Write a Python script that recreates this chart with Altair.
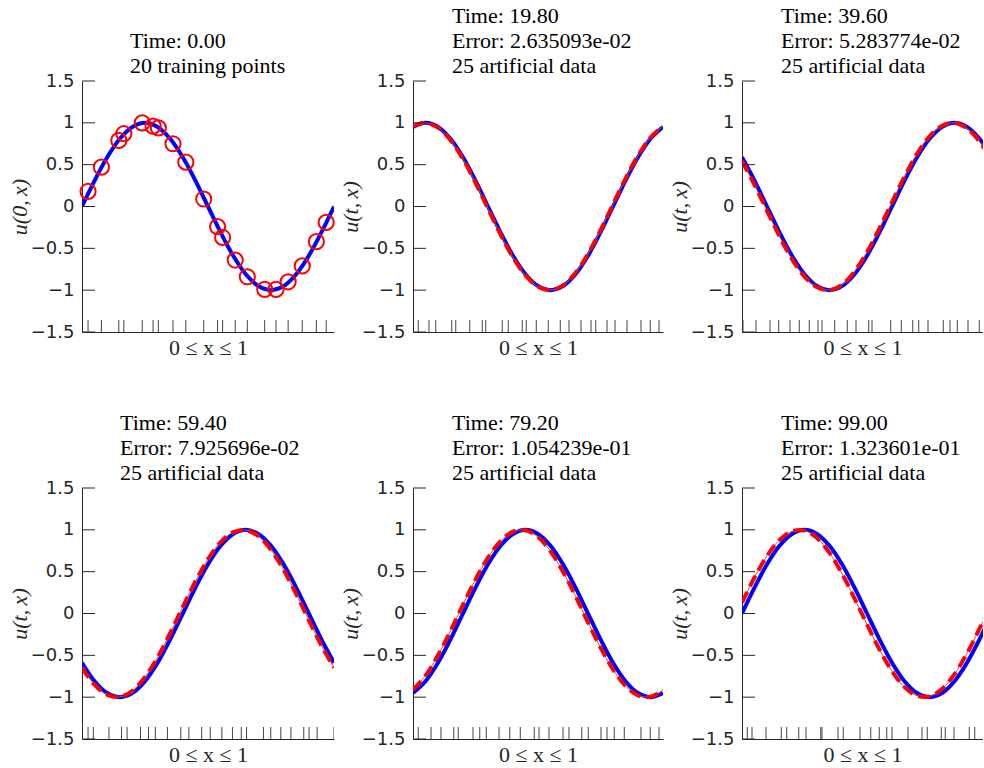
import altair as alt
import pandas as pd

# ---------------- data ----------------
X_GRID = [0.0, 0.05, 0.1, 0.15, 0.2, 0.25, 0.3, 0.35, 0.4, 0.45, 0.5,
          0.55, 0.6, 0.65, 0.7, 0.75, 0.8, 0.85, 0.9, 0.95, 1.0]

EXACT_1 = [0, .309, .588, .809, .951, 1, .951, .809, .588, .309, 0, -.309, -.588, -.809, -.951, -1, -.951, -.809, -.588, -.309, 0]
EXACT_2 = [.951, 1, .951, .809, .588, .309, 0, -.309, -.588, -.809, -.951, -1, -.951, -.809, -.588, -.309, 0, .309, .588, .809, .951]
EXACT_3 = [.588, .309, 0, -.309, -.588, -.809, -.951, -1, -.951, -.809, -.588, -.309, 0, .309, .588, .809, .951, 1, .951, .809, .588]
EXACT_4 = [-.588, -.809, -.951, -1, -.951, -.809, -.588, -.309, 0, .309, .588, .809, .951, 1, .951, .809, .588, .309, 0, -.309, -.588]
EXACT_5 = [-.951, -.809, -.588, -.309, 0, .309, .588, .809, .951, 1, .951, .809, .588, .309, 0, -.309, -.588, -.809, -.951, -1, -.951]
EXACT_6 = [0, .309, .588, .809, .951, 1, .951, .809, .588, .309, 0, -.309, -.588, -.809, -.951, -1, -.951, -.809, -.588, -.309, 0]

PRED_2 = [.959, 1.0, .943, .793, .566, .284, -.026, -.334, -.609, -.824, -.959, -1.0, -.943, -.793, -.566, -.284, .026, .334, .609, .824, .959]
PRED_3 = [.545, .259, -.052, -.358, -.629, -.839, -.966, -.999, -.934, -.777, -.545, -.259, .052, .358, .629, .839, .966, .999, .934, .777, .545]
PRED_4 = [-.649, -.853, -.972, -.997, -.924, -.760, -.522, -.233, .078, .383, .649, .853, .972, .997, .924, .760, .522, .233, -.078, -.383, -.649]
PRED_5 = [-.914, -.743, -.500, -.208, .105, .407, .669, .866, .978, .995, .914, .743, .500, .208, -.105, -.407, -.669, -.866, -.978, -.995, -.914]
PRED_6 = [.131, .431, .688, .879, .983, .991, .903, .725, .477, .182, -.131, -.431, -.688, -.879, -.983, -.991, -.903, -.725, -.477, -.182, .131]

TRAIN_X = [0.024, 0.077, 0.146, 0.166, 0.239, 0.282, 0.303, 0.361, 0.412, 0.483,
           0.538, 0.558, 0.608, 0.656, 0.725, 0.770, 0.818, 0.874, 0.930, 0.969]
TRAIN_U = [0.18, 0.47, 0.79, 0.87, 1.0, 0.96, 0.94, 0.75, 0.53, 0.09,
           -0.24, -0.37, -0.64, -0.84, -0.99, -0.99, -0.90, -0.71, -0.42, -0.19]

RUG_2 = [0.021, 0.064, 0.091, 0.155, 0.171, 0.227, 0.277, 0.291, 0.357, 0.381, 0.437, 0.453, 0.493,
         0.541, 0.589, 0.624, 0.672, 0.712, 0.731, 0.776, 0.808, 0.856, 0.912, 0.949, 0.984]
RUG_3 = [0.004, 0.056, 0.112, 0.147, 0.192, 0.229, 0.269, 0.304, 0.320, 0.371, 0.421, 0.456, 0.507,
         0.520, 0.595, 0.637, 0.683, 0.707, 0.744, 0.805, 0.832, 0.861, 0.904, 0.949, 0.990]
RUG_4 = [0.024, 0.045, 0.107, 0.157, 0.179, 0.232, 0.264, 0.291, 0.339, 0.392, 0.424, 0.475, 0.509,
         0.555, 0.597, 0.632, 0.653, 0.720, 0.749, 0.789, 0.829, 0.880, 0.901, 0.933, 1.0]
RUG_5 = [0.021, 0.072, 0.112, 0.163, 0.181, 0.240, 0.267, 0.293, 0.344, 0.387, 0.429, 0.485, 0.504,
         0.544, 0.600, 0.624, 0.675, 0.701, 0.752, 0.776, 0.805, 0.845, 0.912, 0.949, 0.984]
RUG_6 = [0.021, 0.040, 0.096, 0.157, 0.179, 0.227, 0.256, 0.315, 0.320, 0.384, 0.405, 0.472, 0.515,
         0.549, 0.579, 0.600, 0.664, 0.720, 0.741, 0.797, 0.813, 0.848, 0.909, 0.931, 0.990]

Y_TICKS = [-1.5, -1, -0.5, 0, 0.5, 1, 1.5]

TITLES = [
    ["Time: 0.00", "20 training points"],
    ["Time: 19.80", "Error: 2.635093e-02", "25 artificial data"],
    ["Time: 39.60", "Error: 5.283774e-02", "25 artificial data"],
    ["Time: 59.40", "Error: 7.925696e-02", "25 artificial data"],
    ["Time: 79.20", "Error: 1.054239e-01", "25 artificial data"],
    ["Time: 99.00", "Error: 1.323601e-01", "25 artificial data"],
]
YTITLES = ["u(0,\u2009x)", "u(t,\u2009x)", "u(t,\u2009x)", "u(t,\u2009x)", "u(t,\u2009x)", "u(t,\u2009x)"]

# ---------------- styling ----------------
H = 251
SERIF = "Liberation Serif"
SANS = "DejaVu Sans"
AX = "#262626"


def panel(exact, pred, rug, title, ytitle, dx, width, xmax=1.0, train=False):
    xs = alt.Scale(domain=[0, xmax], nice=False, zero=False)
    ys = alt.Scale(domain=[-1.5, 1.5], nice=False, zero=False)
    xaxis = alt.Axis(title="0 \u2264 x \u2264 1", labels=False, ticks=False, grid=False,
                     domainColor=AX, domainWidth=1, titleFont=SERIF, titleFontSize=22,
                     titleFontWeight="normal", titleColor=AX, titlePadding=5)
    yaxis = alt.Axis(title=ytitle, values=Y_TICKS, format="~g", ticks=False, grid=False,
                     domainColor=AX, domainWidth=1, labelFont=SANS, labelFontSize=18,
                     labelColor=AX, labelPadding=8, titleFont=SERIF, titleFontSize=22,
                     titleFontStyle="italic", titleFontWeight="normal", titleColor=AX,
                     titlePadding=-1)
    X = alt.X("x:Q", scale=xs, axis=xaxis)
    Y = alt.Y("u:Q", scale=ys, axis=yaxis)

    layers = []
    layers.append(
        alt.Chart(pd.DataFrame({"x": X_GRID, "u": exact}))
        .mark_line(color="#0000ff", strokeWidth=4, interpolate="catmull-rom", clip=True)
        .encode(x=X, y=Y)
    )
    if pred is not None:
        dfp = pd.DataFrame({"x": X_GRID, "u": pred})
        layers.append(
            alt.Chart(dfp)
            .mark_line(color="#d95319", strokeWidth=1, interpolate="catmull-rom", clip=True)
            .encode(x=X, y=Y)
        )
        layers.append(
            alt.Chart(dfp)
            .mark_line(color="#ff0000", strokeWidth=4, strokeDash=[12, 6],
                       interpolate="catmull-rom", clip=True)
            .encode(x=X, y=Y)
        )
    if train:
        layers.append(
            alt.Chart(pd.DataFrame({"x": TRAIN_X, "u": TRAIN_U}))
            .mark_point(shape="circle", filled=False, size=230, strokeWidth=2,
                        color="#ff0000", opacity=1)
            .encode(x=X, y=Y)
        )
    layers.append(
        alt.Chart(pd.DataFrame({"x": rug}))
        .mark_rule(color="#444444", strokeWidth=1, clip=True)
        .encode(x=X, y=alt.value(H), y2=alt.value(H - 12))
    )
    layers.append(
        alt.Chart(pd.DataFrame({"u": Y_TICKS}))
        .mark_rule(color=AX, strokeWidth=1)
        .encode(y=Y, x=alt.value(0), x2=alt.value(13))
    )
    return alt.layer(*layers).properties(
        width=width, height=H,
        view=alt.ViewBackground(strokeWidth=0, stroke="transparent"),
        title=alt.TitleParams(text=title, anchor="start", frame="group", dx=dx,
                              font=SERIF, fontSize=22, fontWeight="normal",
                              lineHeight=25, offset=-6, color="black"),
    )


W1, W2, W3 = 252, 250, 241
p1 = panel(EXACT_1, None, TRAIN_X, TITLES[0], YTITLES[0], 48, W1, train=True)
p2 = panel(EXACT_2, PRED_2, RUG_2, TITLES[1], YTITLES[1], 39, W2)
p3 = panel(EXACT_3, PRED_3, RUG_3, TITLES[2], YTITLES[2], 39, W3, xmax=W3 / W2)
p4 = panel(EXACT_4, PRED_4, RUG_4, TITLES[3], YTITLES[3], 38, W1)
p5 = panel(EXACT_5, PRED_5, RUG_5, TITLES[4], YTITLES[4], 39, W2)
p6 = panel(EXACT_6, PRED_6, RUG_6, TITLES[5], YTITLES[5], 39, W3, xmax=W3 / W2)

chart = (
    alt.concat(p1, p2, p3, p4, p5, p6, columns=3, bounds="flush", align="each",
               spacing={"row": 156, "column": 79})
    .properties(padding={"left": 8, "top": 5, "right": 0, "bottom": 0})
    .configure_view(strokeWidth=0, stroke="transparent")
    .configure(background="white")
)

chart.save("out.html", embed_options={"renderer": "svg", "actions": False})
